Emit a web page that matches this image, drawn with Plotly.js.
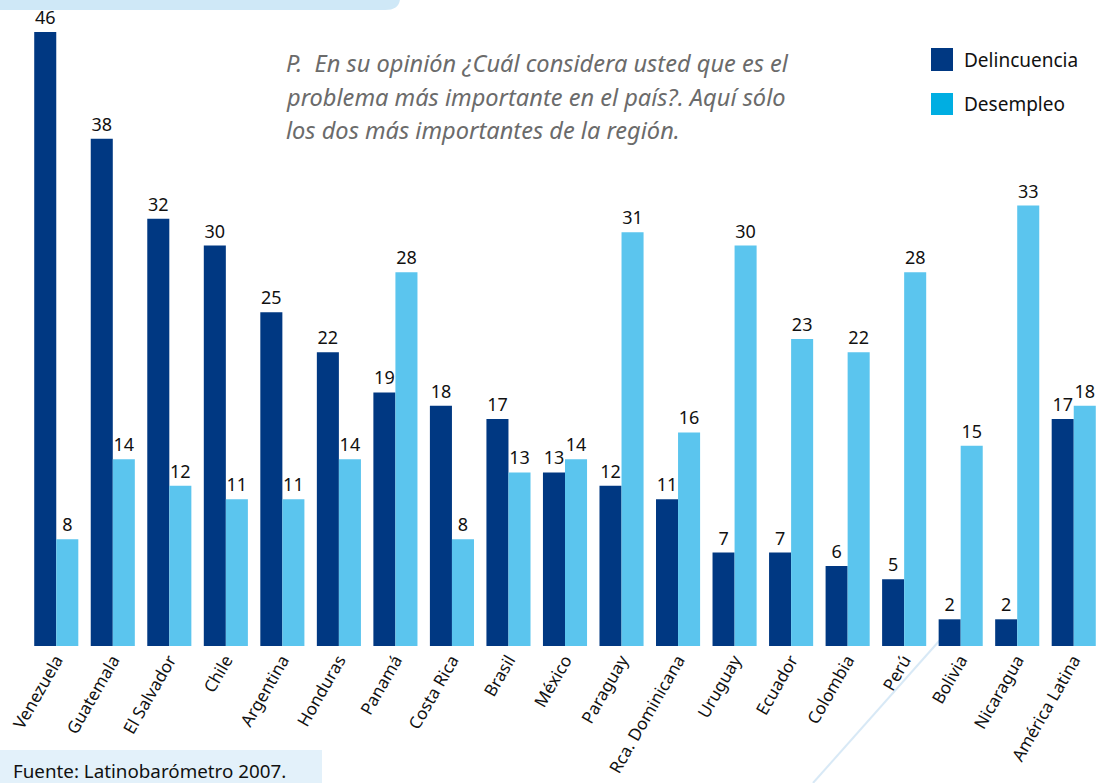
<!DOCTYPE html>
<html><head><meta charset="utf-8">
<script src="https://cdn.plot.ly/plotly-3.0.1.min.js"></script>
<style>body{margin:0;background:#fff}#c{width:1102px;height:783px}</style>
</head><body><div id="c"></div>
<script>
const categories = ["Venezuela","Guatemala","El Salvador","Chile","Argentina","Honduras","Panamá","Costa Rica","Brasil","México","Paraguay","Rca. Dominicana","Uruguay","Ecuador","Colombia","Perú","Bolivia","Nicaragua","América Latina"];
const delincuencia = [46,38,32,30,25,22,19,18,17,13,12,11,7,7,6,5,2,2,17];
const desempleo = [8,14,12,11,11,14,28,8,13,14,31,16,30,23,22,28,15,33,18];
const seriesNames = ["Delincuencia","Desempleo"];
const noteLines = ["P.  En su opinión ¿Cuál considera usted que es el", "problema más importante en el país?. Aquí sólo", "los dos más importantes de la región."];
const source = "Fuente: Latinobarómetro 2007.";

const FONT = "Noto Sans, Open Sans, sans-serif";
const dark = "#003882", light = "#5bc5ee", legendLight = "#00aee2";

const mk = (name, y, color) => ({
  type: "bar", name: name, x: categories, y: y,
  marker: {color: color},
  text: y.map(String), textposition: "outside", cliponaxis: false,
  textfont: {family: FONT, size: 18, color: "#111"},
  showlegend: false, hoverinfo: "x+y"
});

const data = [mk(seriesNames[0], delincuencia, dark), mk(seriesNames[1], desempleo, light)];

const px = x => (x-28)/1074, py = y => (646-y)/614;

const notes = noteLines.map((t, i) => ({
  xref: "paper", yref: "paper", x: px(284), y: py(63 + i*33.5), xanchor: "left", yanchor: "middle", align: "left",
  text: "<i>" + t + "</i>", showarrow: false, font: {family: FONT, size: 23.6, color: "#6b6b6b"}
}));

const layout = {
  width: 1102, height: 783,
  margin: {l: 28, r: 0, t: 32, b: 137},
  paper_bgcolor: "#fff", plot_bgcolor: "rgba(0,0,0,0)",
  barmode: "group", bargap: 0.22, bargroupgap: 0,
  font: {family: FONT, color: "#111"},
  xaxis: {type: "category", range: [-0.5, 18.5], tickangle: -60, showgrid: false, zeroline: false,
          showline: false, ticks: "", tickfont: {family: FONT, size: 17, color: "#111"}},
  yaxis: {range: [0, 46], visible: false, fixedrange: true},
  shapes: [
    {type: "path", xref: "paper", yref: "paper", layer: "below",
     path: `M ${px(0)},${py(-2)} L ${px(400)},${py(-2)} Q ${px(400)},${py(10)} ${px(385)},${py(10)} L ${px(0)},${py(10)} Z`,
     fillcolor: "#cfe8f7", line: {width: 0}},
    {type: "line", xref: "paper", yref: "paper", layer: "below",
     x0: px(813), y0: py(783), x1: px(940), y1: py(640),
     line: {color: "#d8e9f6", width: 2}},
    {type: "rect", xref: "paper", yref: "paper", layer: "below",
     x0: px(0), x1: px(322), y0: py(783), y1: py(750),
     fillcolor: "#e3f1fa", line: {width: 0}},
    {type: "rect", xref: "paper", yref: "paper",
     x0: px(931), x1: px(953), y0: py(71), y1: py(48),
     fillcolor: dark, line: {width: 0}},
    {type: "rect", xref: "paper", yref: "paper",
     x0: px(931), x1: px(953), y0: py(115), y1: py(93),
     fillcolor: legendLight, line: {width: 0}}
  ],
  annotations: [
    {xref: "paper", yref: "paper", x: px(962), y: py(60), xanchor: "left", yanchor: "middle",
     text: seriesNames[0], showarrow: false, font: {family: FONT, size: 19, color: "#111"}},
    {xref: "paper", yref: "paper", x: px(962), y: py(104), xanchor: "left", yanchor: "middle",
     text: seriesNames[1], showarrow: false, font: {family: FONT, size: 19, color: "#111"}},
    ...notes,
    {xref: "paper", yref: "paper", x: px(11), y: py(771), xanchor: "left", yanchor: "middle",
     text: source, showarrow: false, font: {family: FONT, size: 18.8, color: "#111"}}
  ]
};

Plotly.newPlot("c", data, layout, {displayModeBar: false, staticPlot: true});
</script></body></html>
